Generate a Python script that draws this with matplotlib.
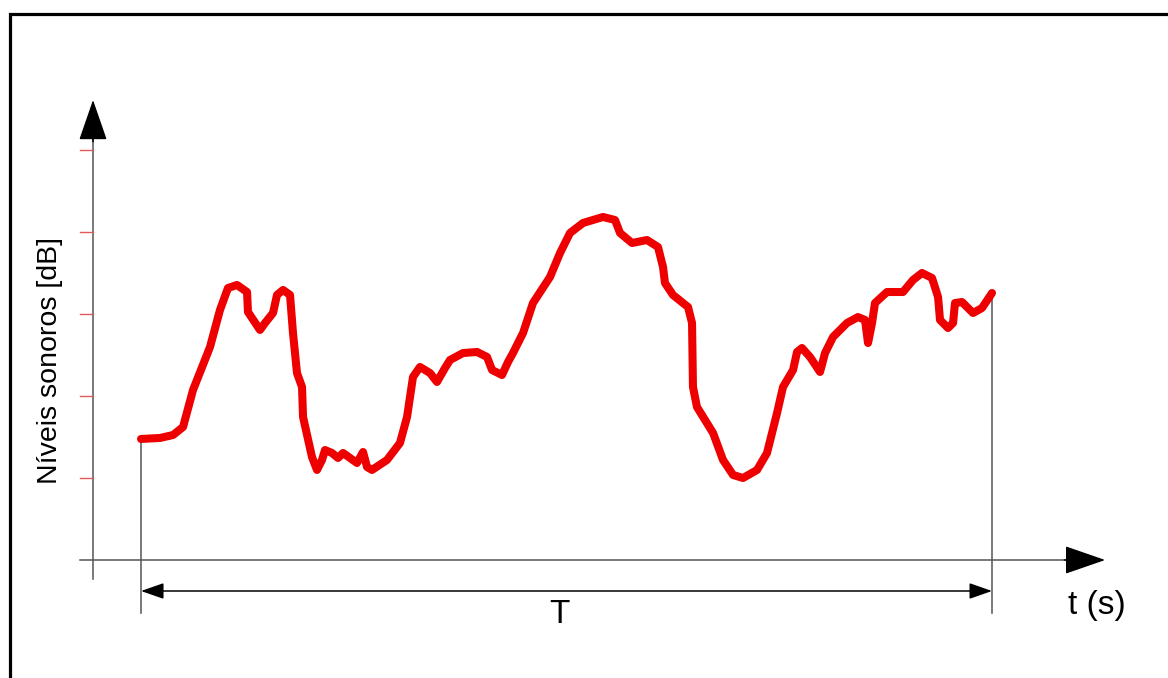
import matplotlib
matplotlib.use("Agg")
import matplotlib.pyplot as plt
from matplotlib.patches import Rectangle

plt.rcParams['font.family'] = ['Liberation Sans', 'DejaVu Sans']

# time (T = 100 units) and sound level (in tick units)
t = [0, 2.23, 3.76, 4.94, 6.11, 8.11, 9.28, 10.22, 11.28, 12.46, 12.57, 13.98,
     14.57, 15.51, 15.98, 16.69, 17.51, 17.86, 18.33, 18.92, 19.04, 20.09, 20.68,
     21.27, 21.62, 22.44, 23.15, 23.74, 25.38, 26.09, 26.56, 27.14, 28.91, 30.43,
     31.26, 31.96, 32.78, 33.96, 34.78, 35.72, 36.31, 37.84, 39.48, 40.66, 41.25,
     42.42, 43.13, 43.71, 44.89, 46.06, 48.06, 49.24, 50.41, 51.94, 54.29, 55.70,
     56.29, 57.70, 59.46, 60.75, 61.34, 61.57, 62.51, 64.28, 64.75, 64.86, 65.33,
     67.22, 68.39, 69.57, 70.74, 72.39, 73.56, 74.74, 75.44, 76.62, 77.09, 77.67,
     78.61, 79.79, 80.38, 81.32, 82.96, 84.25, 85.08, 85.43, 85.90, 86.25, 87.66,
     89.54, 90.72, 91.77, 92.95, 93.66, 93.89, 94.83, 95.42, 95.65, 96.47, 97.77,
     98.82, 100]
nivel = [1.476, 1.488, 1.524, 1.622, 2.073, 2.598, 3.049, 3.317, 3.354, 3.268, 3.024,
         2.805, 2.890, 3.012, 3.232, 3.293, 3.232, 2.768, 2.280, 2.110, 1.744, 1.256,
         1.098, 1.220, 1.341, 1.305, 1.244, 1.305, 1.183, 1.317, 1.134, 1.098, 1.220,
         1.427, 1.744, 2.232, 2.354, 2.280, 2.171, 2.341, 2.439, 2.524, 2.537, 2.476,
         2.317, 2.256, 2.415, 2.524, 2.768, 3.134, 3.451, 3.744, 3.988, 4.110, 4.183,
         4.146, 3.988, 3.866, 3.902, 3.817, 3.573, 3.378, 3.232, 3.085, 2.890, 2.110,
         1.866, 1.549, 1.220, 1.037, 1.000, 1.098, 1.305, 1.793, 2.110, 2.317, 2.537,
         2.585, 2.476, 2.293, 2.524, 2.720, 2.890, 2.963, 2.927, 2.646, 2.890, 3.134,
         3.268, 3.268, 3.415, 3.500, 3.439, 3.207, 2.927, 2.829, 2.890, 3.134, 3.146,
         3.012, 3.073, 3.256]
y_ticks = [1, 2, 3, 4, 5]
T = 100

gray = '#555555'

fig = plt.figure(figsize=(11.68, 6.78), dpi=100)
ax = fig.add_axes([0, 0, 1, 1])
ax.set_xlim(-16.57, 120.68)
ax.set_ylim(-1.439, 6.829)
ax.axis('off')

# frame around the picture (only left and top are visible)
fig.patches.append(Rectangle((9.5 / 1168, -0.1), 1.2, 1.1 - 14 / 678,
                             transform=fig.transFigure, fill=False,
                             edgecolor='black', lw=2.3))

# axes with arrows
ax.plot([-5.64, -5.64], [-0.23, 5.2], color=gray, lw=1.1)
ax.annotate('', xy=(-5.64, 5.61), xytext=(-5.64, 5.1),
            arrowprops=dict(arrowstyle='-|>,head_length=1.3,head_width=0.45',
                            mutation_scale=20, color='black', lw=1.1, shrinkA=0, shrinkB=0))
ax.plot([-7.17, 109.5], [0, 0], color=gray, lw=1.1)
ax.annotate('', xy=(113.3, 0), xytext=(108.5, 0),
            arrowprops=dict(arrowstyle='-|>,head_length=1.3,head_width=0.45',
                            mutation_scale=20, color='black', lw=1.1, shrinkA=0, shrinkB=0))

# red ticks on the y axis
for yt in y_ticks:
    ax.plot([-7.17, -5.64], [yt, yt], color='#e05a5a', lw=1.0)

# vertical lines at start and end
ax.plot([0, 0], [-0.646, nivel[0]], color=gray, lw=1.1)
ax.plot([T, T], [-0.646, nivel[-1]], color=gray, lw=1.1)

# T double arrow
ax.annotate('', xy=(0, -0.378), xytext=(T, -0.378),
            arrowprops=dict(arrowstyle='<|-|>,head_length=1.0,head_width=0.35',
                            mutation_scale=14, color='black', lw=1.1, shrinkA=0, shrinkB=0))

# the curve
ax.plot(t, nivel, color='#ee0000', lw=5.8, solid_joinstyle='round', solid_capstyle='round')

ax.text(49.2, -0.66, 'T', fontsize=24, ha='center', va='center')
ax.text(108.9, -0.56, 't (s)', fontsize=24, ha='left', va='center')
ax.text(-10.7, 2.43, 'Níveis sonoros [dB]', fontsize=20.5, rotation=90,
        ha='center', va='center')

fig.savefig('out.png', dpi=100)
